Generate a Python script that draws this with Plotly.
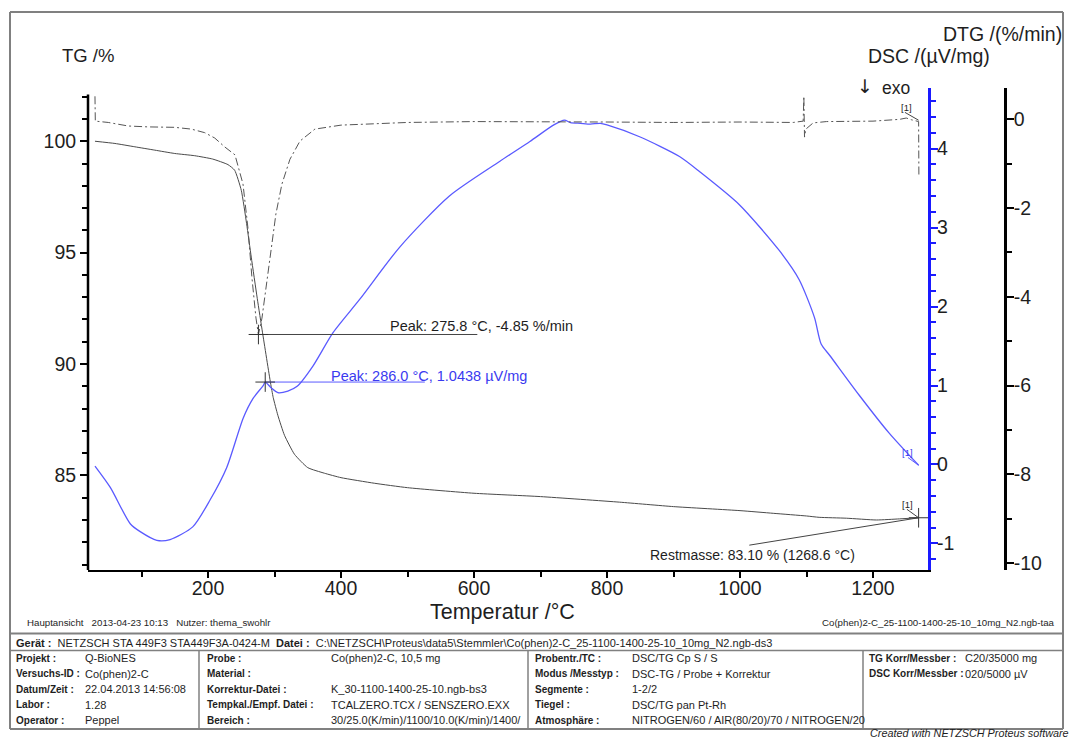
import plotly.graph_objects as go

W, H = 1070, 744
FONT = "Arial, Liberation Sans, sans-serif"

# ---------------- data ----------------
# TG (%)
tg_T = [30, 60, 90, 120, 150, 180, 207, 230, 240, 250, 258, 265, 274, 282, 294, 298, 305, 315,
        330, 350, 375, 400, 450, 500, 600, 700, 819, 900, 1000, 1050, 1100, 1119, 1160, 1205,
        1240, 1268.6]
tg_v = [100.0, 99.9, 99.75, 99.6, 99.45, 99.35, 99.2, 98.95, 98.7, 97.8, 96.3, 94.8, 92.95,
        91.4, 89.15, 88.5, 87.7, 86.8, 85.95, 85.35, 85.1, 84.9, 84.65, 84.45, 84.2, 84.05, 83.8,
        83.6, 83.42, 83.3, 83.18, 83.12, 83.08, 83.0, 83.05, 83.10]

# DTG (%/min)
dtg_T = [30, 30.5, 50, 80, 110, 150, 175, 195, 210, 225, 240.5, 252.6, 260.1, 266.1, 272.1,
         275.8, 281.1, 287.1, 293.1, 302.1, 311.1, 323.2, 338.2, 360.7, 400, 450, 500, 600,
         700, 800, 900, 1000, 1080, 1095, 1096, 1097, 1099, 1110, 1130, 1200, 1240, 1250,
         1258, 1268.6, 1269]
dtg_v = [0.52, -0.04, -0.07, -0.15, -0.17, -0.18, -0.22, -0.3, -0.42, -0.62, -0.8, -1.46,
         -2.46, -3.58, -4.48, -4.85, -4.48, -3.81, -3.02, -2.13, -1.46, -0.9, -0.49, -0.22,
         -0.13, -0.1, -0.07, -0.05, -0.05, -0.06, -0.07, -0.06, -0.07, -0.04, 0.52, -0.4,
         -0.22, -0.08, -0.05, -0.04, 0.0, 0.03, -0.01, -0.05, -1.3]

# DSC (µV/mg)
dsc_T = [30, 53, 83, 98, 123, 143, 177, 203, 228, 253, 268, 283, 286.0, 295, 305, 320, 334,
         358, 388, 428, 488, 563, 639, 684, 720, 736, 745, 760, 775, 790, 800, 849, 909, 939,
         999, 1059, 1089, 1112, 1122, 1135, 1179, 1224, 1268.6]
dsc_v = [-0.02, -0.29, -0.75, -0.85, -0.96, -0.95, -0.79, -0.45, -0.04, 0.59, 0.84, 1.0,
         1.0438, 0.97, 0.91, 0.93, 0.99, 1.25, 1.67, 2.09, 2.75, 3.4, 3.84, 4.09, 4.3, 4.36,
         4.33, 4.32, 4.31, 4.32, 4.3, 4.15, 3.9, 3.71, 3.29, 2.71, 2.34, 1.86, 1.525, 1.38,
         0.88, 0.4, -0.01]

# evaluation results
dtg_peak = (275.8, -4.85)
dsc_peak = (286.0, 1.0438)
rest = (1268.6, 83.10)
dtg_leader_end_T = 605
dsc_leader_end_T = 526
rest_leader_end = (1014, 81.87)

x_ticks = [200, 400, 600, 800, 1000, 1200]
tg_ticks = [85, 90, 95, 100]
dsc_ticks = [-1, 0, 1, 2, 3, 4]
dtg_ticks = [-10, -8, -6, -4, -2, 0]

# table contents
col1_labels = ["Projekt :", "Versuchs-ID :", "Datum/Zeit :", "Labor :", "Operator :"]
col1_vals = ["Q-BioNES", "Co(phen)2-C", "22.04.2013 14:56:08", "1.28", "Peppel"]
col2_labels = ["Probe :", "Material :", "Korrektur-Datei :", "Tempkal./Empf. Datei :", "Bereich :"]
col2_vals = ["Co(phen)2-C, 10,5 mg", "", "K_30-1100-1400-25-10.ngb-bs3",
             "TCALZERO.TCX / SENSZERO.EXX", "30/25.0(K/min)/1100/10.0(K/min)/1400/"]
col3_labels = ["Probentr./TC :", "Modus /Messtyp :", "Segmente :", "Tiegel :", "Atmosphäre :"]
col3_vals = ["DSC/TG Cp S / S", "DSC-TG / Probe + Korrektur", "1-2/2", "DSC/TG pan Pt-Rh",
             "NITROGEN/60 / AIR(80/20)/70 / NITROGEN/20"]
col4_labels = ["TG Korr/Messber :", "DSC Korr/Messber :"]
col4_vals = ["C20/35000 mg", "020/5000 µV"]

# ---------------- helpers ----------------
def px(x):
    return x / W

def py(y):
    return 1 - y / H

BLUE_LINE = "#5a5aff"
BLUE_TEXT = "#3a3af0"
BLUE_AXIS = "#1a1aff"
TXT = "#1e1e1e"

fig = go.Figure()

fig.add_trace(go.Scatter(x=tg_T, y=tg_v, mode="lines", yaxis="y",
                         line=dict(color="#4a4a4a", width=1, shape="spline", smoothing=0.5),
                         hoverinfo="skip"))
fig.add_trace(go.Scatter(x=dtg_T, y=dtg_v, mode="lines", yaxis="y3",
                         line=dict(color="#555555", width=1, dash="8px,3px,2px,3px"),
                         hoverinfo="skip"))
fig.add_trace(go.Scatter(x=dsc_T, y=dsc_v, mode="lines", yaxis="y2",
                         line=dict(color=BLUE_LINE, width=1.3, shape="spline", smoothing=0.7),
                         hoverinfo="skip"))

# leaders and crosses
fig.add_trace(go.Scatter(x=[dtg_peak[0], dtg_leader_end_T], y=[dtg_peak[1], dtg_peak[1]],
                         mode="lines", yaxis="y3", line=dict(color="#444", width=1)))
fig.add_trace(go.Scatter(x=[dtg_peak[0]], y=[dtg_peak[1]], mode="markers", yaxis="y3",
                         marker=dict(symbol="cross-thin", size=14,
                                     line=dict(color="#333", width=1))))
fig.add_trace(go.Scatter(x=[dsc_peak[0], dsc_leader_end_T], y=[dsc_peak[1], dsc_peak[1]],
                         mode="lines", yaxis="y2", line=dict(color=BLUE_LINE, width=1)))
fig.add_trace(go.Scatter(x=[dsc_peak[0]], y=[dsc_peak[1]], mode="markers", yaxis="y2",
                         marker=dict(symbol="cross-thin", size=14,
                                     line=dict(color="#333", width=1))))
fig.add_trace(go.Scatter(x=[rest[0], rest_leader_end[0]], y=[rest[1], rest_leader_end[1]],
                         mode="lines", yaxis="y", line=dict(color="#444", width=1)))
fig.add_trace(go.Scatter(x=[rest[0]], y=[rest[1]], mode="markers", yaxis="y",
                         marker=dict(symbol="cross-thin", size=14,
                                     line=dict(color="#333", width=1))))
# [1] leaders
fig.add_trace(go.Scatter(x=[1252.6, dsc_T[-1]], y=[0.088, dsc_v[-1]], mode="lines", yaxis="y2",
                         line=dict(color=BLUE_LINE, width=1)))
fig.add_trace(go.Scatter(x=[1251, rest[0]], y=[83.48, rest[1]], mode="lines", yaxis="y",
                         line=dict(color="#444", width=1)))
fig.add_trace(go.Scatter(x=[1248, 1268.6], y=[0.157, -0.02], mode="lines", yaxis="y3",
                         line=dict(color="#444", width=1)))

Y_TOP, Y_BOT = 88, 573
dom_y = [py(Y_BOT), py(Y_TOP)]
tickfont = dict(family=FONT, size=19.5, color=TXT)

fig.update_layout(
    width=W, height=H, margin=dict(l=0, r=0, t=0, b=0),
    paper_bgcolor="white", plot_bgcolor="white", showlegend=False,
    font=dict(family=FONT, color=TXT),
    xaxis=dict(domain=[px(88), px(928)], range=[19.5, 1282.7], showgrid=False,
               zeroline=False, showline=True, linecolor="black", linewidth=2,
               ticks="outside", tickvals=x_ticks, ticklen=6, tickwidth=1.5,
               tickcolor="black", tickfont=tickfont, anchor="y", ticklabelstandoff=-6,
               minor=dict(tickmode="linear", tick0=0, dtick=100, ticks="outside",
                          ticklen=5, tickwidth=1.5, tickcolor="black")),
    yaxis=dict(domain=dom_y, range=[100 - (Y_BOT - 142) / 22.4, 100 + (142 - Y_TOP) / 22.4],
               showgrid=False, zeroline=False, showline=False,
               ticks="outside", tickvals=tg_ticks, ticklen=7, tickwidth=2,
               tickcolor="black", tickfont=tickfont, anchor="x",
               minor=dict(tickmode="linear", tick0=0, dtick=1, ticks="outside",
                          ticklen=5, tickwidth=1.5, tickcolor="black")),
    yaxis2=dict(overlaying="y", side="right", anchor="x",
                range=[(467 - Y_BOT) / 79.4, (467 - Y_TOP) / 79.4],
                showgrid=False, zeroline=False, showline=True, linecolor=BLUE_AXIS,
                linewidth=3, ticks="outside", tickvals=dsc_ticks,
                ticktext=[str(v) for v in dsc_ticks], ticklen=7, tickwidth=2,
                tickcolor=BLUE_AXIS, tickfont=tickfont, ticklabelstandoff=-5,
                minor=dict(tickmode="linear", tick0=0, dtick=0.2, ticks="outside",
                           ticklen=5, tickwidth=1.5, tickcolor=BLUE_AXIS)),
    yaxis3=dict(overlaying="y", side="right", anchor="free", position=px(1005),
                range=[-(Y_BOT - 120) / 44.6, (120 - Y_TOP) / 44.6],
                showgrid=False, zeroline=False, showline=True, linecolor="black",
                linewidth=2.5, ticks="outside", tickvals=dtg_ticks,
                ticktext=[str(v) for v in dtg_ticks], ticklen=7, tickwidth=2,
                tickcolor="black", tickfont=tickfont, ticklabelstandoff=-4,
                minor=dict(tickmode="linear", tick0=0, dtick=1, ticks="outside",
                           ticklen=5, tickwidth=1.5, tickcolor="black")),
)

ann = []

def text(x, y, s, size=10, xanchor="left", color=TXT, italic=False, family=FONT):
    ann.append(dict(x=px(x), y=py(y), xref="paper", yref="paper", text=s, showarrow=False,
                    xanchor=xanchor, yanchor="middle",
                    font=dict(family=family, size=size, color=color,
                              style="italic" if italic else "normal")))

# axis titles
text(60, 56, "TG /%", 18.5)
text(1064, 34, "DTG /(%/min)", 19.5, "right")
text(866, 56, "DSC /(µV/mg)", 19.5)
text(855, 86, "↓", 19, family="DejaVu Sans")
text(880, 88, "exo", 17.5)
text(502, 615, "Temperatur /°C", 21.5, "center")

# evaluation labels
text(388, 328, "Peak: 275.8 °C, -4.85 %/min", 14.5)
text(329, 378, "Peak: 286.0 °C, 1.0438 µV/mg", 14.5, color=BLUE_TEXT)
text(752, 558, "Restmasse: 83.10 % (1268.6 °C)", 14, "center")
text(899, 108, "[1]", 9.5)
text(900, 455, "[1]", 9.5, color=BLUE_TEXT)
text(900, 507, "[1]", 9.5)

# footer
text(25, 626, "Hauptansicht\u00a0\u00a0 2013-04-23 10:13\u00a0\u00a0 Nutzer: thema_swohlr", 9.7)
text(1057, 626, "Co(phen)2-C_25-1100-1400-25-10_10mg_N2.ngb-taa", 9.7, "right")

# table
text(14, 646, "<b>Gerät :</b>\u00a0 NETZSCH STA 449F3 STA449F3A-0424-M\u00a0 <b>Datei :</b>\u00a0 "
     r"C:\NETZSCH\Proteus\data5\Stemmler\Co(phen)2-C_25-1100-1400-25-10_10mg_N2.ngb-ds3", 11)
rows_y = [662, 677.5, 693, 708.5, 724]
for labels, vals, xl, xv in [(col1_labels, col1_vals, 14, 83), (col2_labels, col2_vals, 205, 329),
                             (col3_labels, col3_vals, 533, 630), (col4_labels, col4_vals, 867, 963)]:
    for i, (lab, val) in enumerate(zip(labels, vals)):
        text(xl, rows_y[i], "<b>" + lab + "</b>", 10)
        if val:
            text(xv, rows_y[i], val, 11)
text(868, 737, "Created with NETZSCH Proteus software", 10.8, italic=True)

fig.update_layout(annotations=ann)

shapes = []
def line(x0, y0, x1, y1, color="#808080", width=1.5):
    shapes.append(dict(type="line", xref="paper", yref="paper", x0=px(x0), y0=py(y0),
                       x1=px(x1), y1=py(y1), line=dict(color=color, width=width)))

# left TG axis line (starts a little below the top of the right-hand axes)
line(88, 95, 88, 573, color="black", width=2.5)
# frame and table grid
line(10, 12, 1063, 12, width=2)
line(10, 12, 10, 733, width=2)
line(1063, 12, 1063, 733, width=2)
line(10, 733, 1063, 733, width=2)
line(10, 637, 1063, 637, width=2)
line(10, 654, 1063, 654, width=1.5)
for xv in [199, 528, 863]:
    line(xv, 654, xv, 733, width=1.5)

fig.update_layout(shapes=shapes)

fig.write_html("out.html", config=dict(displayModeBar=False),
               post_script="document.body.style.margin='0';document.body.style.padding='0';"
                           "document.body.style.overflow='hidden';")
